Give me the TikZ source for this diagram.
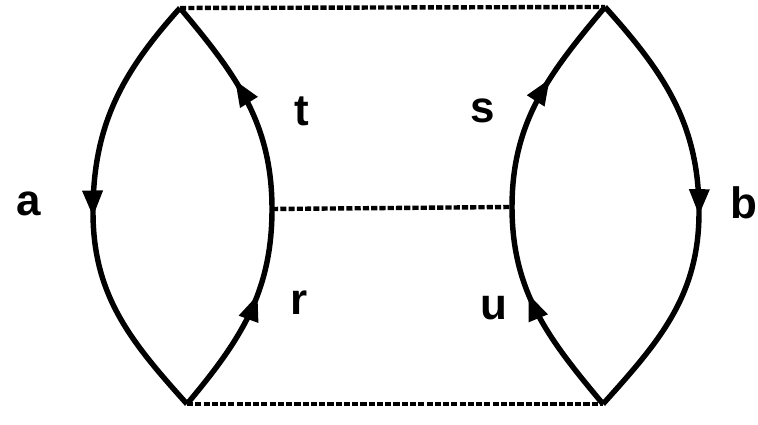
\documentclass[tikz,border=0pt]{standalone}
\usepackage{fontspec}
\setmainfont{Liberation Sans}
\usepackage{tikz}
\usetikzlibrary{arrows.meta,decorations.markings}

\begin{document}
\begin{tikzpicture}[
    arc/.style={line width=3.1pt},
    link/.style={line width=2.5pt,dash pattern=on 3.5pt off 1.2pt},
    midarrow/.style={postaction={decorate,decoration={markings,
        mark=at position #1 with {\arrow{Triangle[length=15pt,width=11pt]}}}}},
    lbl/.style={inner sep=0pt,font=\fontsize{25}{28}\selectfont\bfseries}]
    \useasboundingbox (0,0) rectangle (15.16,8.5);

    % Corner and middle points
    \coordinate (ltop) at (3.6,8.34);
    \coordinate (lbot) at (3.74,0.42);
    \coordinate (lout) at (1.86,4.26);
    \coordinate (lin)  at (5.44,4.32);
    \coordinate (rtop) at (12.1,8.36);
    \coordinate (rbot) at (12.06,0.42);
    \coordinate (rin)  at (10.24,4.36);
    \coordinate (rout) at (13.98,4.26);

    % Dashed links
    \draw[link] (ltop) -- (rtop);
    \draw[link] (lin) -- (rin);
    \draw[link] (lbot) -- (rbot);

    % Left lens
    \draw[arc,midarrow=0.52] (ltop) to[out=228,in=90] (lout) to[out=-90,in=132] (lbot);
    \draw[arc,midarrow=0.6] (lin) to[out=90,in=-50] (ltop);
    \draw[arc,midarrow=0.6] (lbot) to[out=50,in=-90] (lin);

    % Right lens
    \draw[arc,midarrow=0.6] (rin) to[out=90,in=-130] (rtop);
    \draw[arc,midarrow=0.6] (rbot) to[out=130,in=-90] (rin);
    \draw[arc,midarrow=0.52] (rtop) to[out=-48,in=90] (rout) to[out=-90,in=48] (rbot);

    % Labels
    \node[lbl] (la) at (0.58,4.42) {a};
    \node[lbl] (lt) at (6.04,6.28) {t};
    \node[lbl] (ls) at (9.66,6.28) {s};
    \node[lbl] (lr) at (5.98,2.44) {r};
    \node[lbl] (lu) at (9.88,2.34) {u};
    \node[lbl] (lb) at (14.88,4.45) {b};
\end{tikzpicture}
\end{document}
